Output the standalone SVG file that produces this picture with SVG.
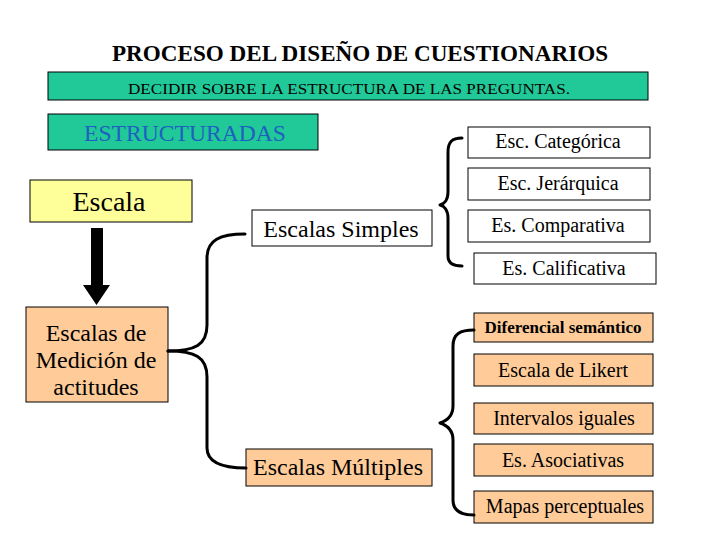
<svg xmlns="http://www.w3.org/2000/svg" width="720" height="540" viewBox="0 0 720 540" font-family="'Liberation Serif', 'Times New Roman', Tinos, 'DejaVu Serif', serif">
<style>
.box{stroke:#000;stroke-width:1}
.peach{fill:#ffcc99}
.white{fill:#fff}
.brace{fill:none;stroke:#000;stroke-width:3;stroke-linecap:round;stroke-linejoin:round}
.s{font-size:20px;text-anchor:middle}
.m{font-size:24px;text-anchor:middle}
</style>
<rect width="720" height="540" fill="#fff"/>
<text x="360" y="61" font-size="23" font-weight="bold" text-anchor="middle" textLength="496" lengthAdjust="spacingAndGlyphs">PROCESO DEL DISEÑO DE CUESTIONARIOS</text>
<g id="decidir"><rect class="box" x="48" y="72" width="600" height="28" fill="#20c997"/><text x="128" y="94" font-size="15" textLength="442" lengthAdjust="spacingAndGlyphs">DECIDIR SOBRE LA ESTRUCTURA DE LAS PREGUNTAS.</text></g>
<g id="estructuradas"><rect class="box" x="48" y="114" width="270" height="36" fill="#20c997"/><text x="84" y="141" font-size="23.5" fill="#1f5fbf" textLength="202" lengthAdjust="spacingAndGlyphs">ESTRUCTURADAS</text></g>
<g id="escala"><rect class="box" x="30" y="180" width="162" height="42" fill="#ffff99"/><text x="109" y="211" font-size="28" text-anchor="middle">Escala</text></g>
<g id="medicion"><rect class="box peach" x="26" y="307" width="142" height="95"/><text class="m" x="96" y="341">Escalas de</text><text class="m" x="96" y="368">Medición de</text><text class="m" x="96" y="395">actitudes</text></g>
<g id="simples"><rect class="box white" x="252" y="210" width="180" height="36"/><text class="m" x="341" y="237">Escalas Simples</text></g>
<g id="multiples"><rect class="box peach" x="246" y="449" width="186" height="37"/><text class="m" x="338" y="475">Escalas Múltiples</text></g>
<g id="categorica"><rect class="box white" x="468" y="127" width="182" height="31"/><text class="s" x="558" y="148">Esc. Categórica</text></g>
<g id="jerarquica"><rect class="box white" x="468" y="168" width="182" height="32"/><text class="s" x="558" y="190">Esc. Jerárquica</text></g>
<g id="comparativa"><rect class="box white" x="468" y="210" width="182" height="32"/><text class="s" x="558" y="232">Es. Comparativa</text></g>
<g id="calificativa"><rect class="box white" x="474" y="253" width="182" height="31"/><text class="s" x="564" y="275">Es. Calificativa</text></g>
<g id="diferencial"><rect class="box peach" x="474" y="313" width="179" height="29"/><text x="563" y="333" font-size="17" font-weight="bold" text-anchor="middle">Diferencial semántico</text></g>
<g id="likert"><rect class="box peach" x="474" y="354" width="179" height="32"/><text class="s" x="563" y="377">Escala de Likert</text></g>
<g id="intervalos"><rect class="box peach" x="474" y="403" width="179" height="31"/><text class="s" x="564" y="425">Intervalos iguales</text></g>
<g id="asociativas"><rect class="box peach" x="474" y="444" width="179" height="32"/><text class="s" x="563" y="467">Es. Asociativas</text></g>
<g id="mapas"><rect class="box peach" x="474" y="491" width="179" height="32"/><text class="s" x="565" y="513">Mapas perceptuales</text></g>
<g id="connectors">
<polygon points="91,228 103,228 103,285 110,285 96.5,305 83,285 91,285" fill="#000"/>
<path class="brace" d="M168,351 C195,351 207,345 207,325 L207,258 C207,240 220,234 245,234"/>
<path class="brace" d="M168,351 C195,351 207,357 207,377 L207,448 C207,462 220,468 246,468"/>
<path class="brace" d="M462,138 C452,138 448,142 448,152 L448,192 C448,200 444,204 440,205 C444,206 448,210 448,218 L448,256 C448,262 452,266 462,266"/>
<path class="brace" d="M474,330 C460,330 453,334 453,346 L453,406 C453,416 446,421 440,423 C446,425 453,430 453,440 L453,500 C453,510 460,515 474,515"/>
</g>
</svg>
